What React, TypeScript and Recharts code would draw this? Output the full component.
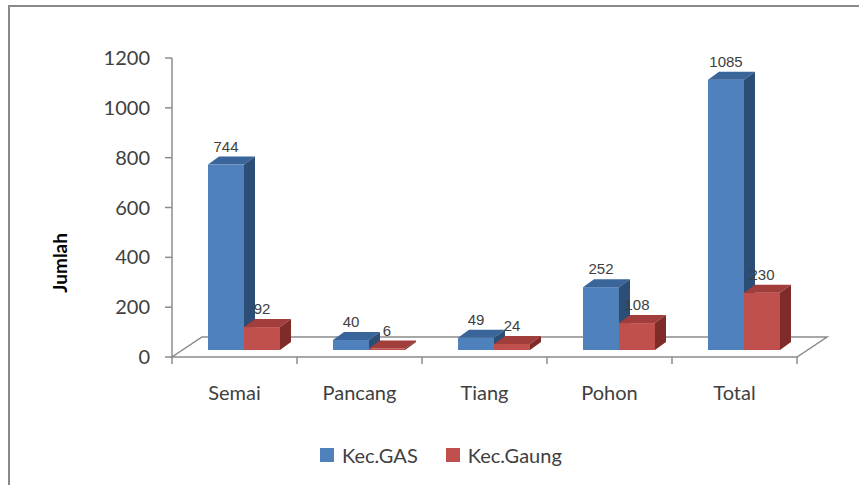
import React from "react";
import * as R from "recharts";
import { BarChart, Bar, XAxis, YAxis, Legend, LabelList } from "recharts";

// data
const categories = ["Semai", "Pancang", "Tiang", "Pohon", "Total"];
const kecGas = [744, 40, 49, 252, 1085];
const kecGaung = [92, 6, 24, 108, 230];
const yTicks = [0, 200, 400, 600, 800, 1000, 1200];

const data = categories.map((name, i) => ({
  name,
  gas: kecGas[i],
  gaung: kecGaung[i],
}));

// 3d look
const DEPTH_X = 11;
const DEPTH_Y = 8;
const SHIFT_X = 9;
const SHIFT_Y = -7;
const FLOOR_X = 30;
const FLOOR_Y = 20;

const MARGIN = { top: 58, right: 62, left: 52, bottom: 64 };
const Y_W = 120;
const W = 859;
const H = 485;

const TEXT = "#404040";
const AXIS = "#8c8c8c";
const FONT = "Lato, 'Open Sans', sans-serif";

const BLUE = { front: "#4f81bd", top: "#3a659a", side: "#2c4d75" };
const RED = { front: "#c0504d", top: "#a13d3a", side: "#7f2b29" };

function bar3d(c: { front: string; top: string; side: string }) {
  return (props: any) => {
    const { x, y, width: w, height: h } = props;
    if (x == null || y == null) return <g />;
    const fx = x + SHIFT_X;
    const fy = y + SHIFT_Y;
    return (
      <g>
        <rect x={fx} y={fy} width={w} height={h} fill={c.front} />
        <polygon
          points={`${fx},${fy} ${fx + DEPTH_X},${fy - DEPTH_Y} ${fx + w + DEPTH_X},${fy - DEPTH_Y} ${fx + w},${fy}`}
          fill={c.top}
        />
        <polygon
          points={`${fx + w},${fy} ${fx + w + DEPTH_X},${fy - DEPTH_Y} ${fx + w + DEPTH_X},${fy + h - DEPTH_Y} ${fx + w},${fy + h}`}
          fill={c.side}
        />
      </g>
    );
  };
}

function valueLabel(props: any) {
  const { x, y, width, value } = props;
  return (
    <text
      x={x + SHIFT_X + width / 2}
      y={y + SHIFT_Y - DEPTH_Y - 5}
      textAnchor="middle"
      fontSize={15}
      fontFamily="'Liberation Sans', Arial, sans-serif"
      fill={TEXT}
    >
      {value}
    </text>
  );
}

function Floor() {
  const anyR = R as any;
  const area = anyR.usePlotArea ? anyR.usePlotArea() : undefined;
  const x = area?.x ?? MARGIN.left + Y_W;
  const y = area?.y ?? MARGIN.top;
  const w = area?.width ?? W - MARGIN.left - Y_W - MARGIN.right;
  const h = area?.height ?? 299;
  const b = y + h;
  const step = w / categories.length;
  return (
    <g>
      <polygon
        points={`${x},${b} ${x + w},${b} ${x + w + FLOOR_X},${b - FLOOR_Y} ${x + FLOOR_X},${b - FLOOR_Y}`}
        fill="#fff"
        stroke={AXIS}
        strokeWidth={1.5}
      />
      {categories.map((_, i) => (
        <line
          key={i}
          x1={x + (i + 1) * step}
          x2={x + (i + 1) * step}
          y1={b}
          y2={b + 7}
          stroke={AXIS}
          strokeWidth={1.5}
        />
      ))}
      <line x1={x} x2={x} y1={b} y2={b + 7} stroke={AXIS} strokeWidth={1.5} />
    </g>
  );
}

function CatTick(props: any) {
  const { x, y, payload } = props;
  return (
    <text x={x} y={y + 43} textAnchor="middle" fontSize={20} fontFamily={FONT} fill={TEXT}>
      {payload.value}
    </text>
  );
}

function YTitle(props: any) {
  const vb = props.viewBox || { x: 52, y: 58, height: 299 };
  const cx = vb.x + 8;
  const cy = vb.y + vb.height * 0.685;
  return (
    <text
      x={cx}
      y={cy}
      transform={`rotate(-90 ${cx} ${cy})`}
      textAnchor="middle"
      dominantBaseline="central"
      fontSize={19}
      fontWeight="bold"
      fontFamily={FONT}
      fill="#000"
    >
      Jumlah
    </text>
  );
}

function LegendBox() {
  const items = [
    { label: "Kec.GAS", color: BLUE.front },
    { label: "Kec.Gaung", color: RED.front },
  ];
  return (
    <div style={{ display: "flex", alignItems: "center", gap: 28 }}>
      {items.map((it) => (
        <div key={it.label} style={{ display: "flex", alignItems: "center" }}>
          <span
            style={{ width: 14, height: 14, background: it.color, marginRight: 8, display: "inline-block" }}
          />
          <span style={{ fontFamily: FONT, fontSize: 20, color: TEXT, lineHeight: "24px" }}>{it.label}</span>
        </div>
      ))}
    </div>
  );
}

export default function App() {
  return (
    <div
      style={{
        position: "fixed",
        left: 0,
        top: 0,
        width: W,
        height: H,
        overflow: "hidden",
        background: "#fff",
      }}
    >
      <div
        style={{
          position: "absolute",
          left: 8,
          top: 5,
          width: 900,
          height: 600,
          borderTop: "2px solid #8a8a8a",
          borderLeft: "2px solid #8a8a8a",
        }}
      />
      <div style={{ position: "absolute", left: 0, top: 0 }}>
        <BarChart width={W} height={H} data={data} margin={MARGIN} barSize={36} barGap={0}>
          <Floor />
          <XAxis dataKey="name" axisLine={false} tickLine={false} tickSize={0} tickMargin={0} height={40} tick={<CatTick />} />
          <YAxis
            domain={[0, 1200]}
            ticks={yTicks}
            width={Y_W}
            axisLine={{ stroke: AXIS, strokeWidth: 1.5 }}
            tickLine={{ stroke: AXIS, strokeWidth: 1.5 }}
            tickSize={7}
            tickMargin={15}
            tick={{ fontSize: 20, fontFamily: FONT, fill: TEXT }}
            label={{ content: YTitle }}
          />
          <Legend
            verticalAlign="bottom"
            content={<LegendBox />}
            wrapperStyle={{ left: 320, top: 443, bottom: "auto", width: 320, height: 24 }}
          />
          <Bar dataKey="gas" name="Kec.GAS" fill={BLUE.front} shape={bar3d(BLUE)} isAnimationActive={false}>
            <LabelList dataKey="gas" content={valueLabel} />
          </Bar>
          <Bar dataKey="gaung" name="Kec.Gaung" fill={RED.front} shape={bar3d(RED)} isAnimationActive={false}>
            <LabelList dataKey="gaung" content={valueLabel} />
          </Bar>
        </BarChart>
      </div>
    </div>
  );
}
